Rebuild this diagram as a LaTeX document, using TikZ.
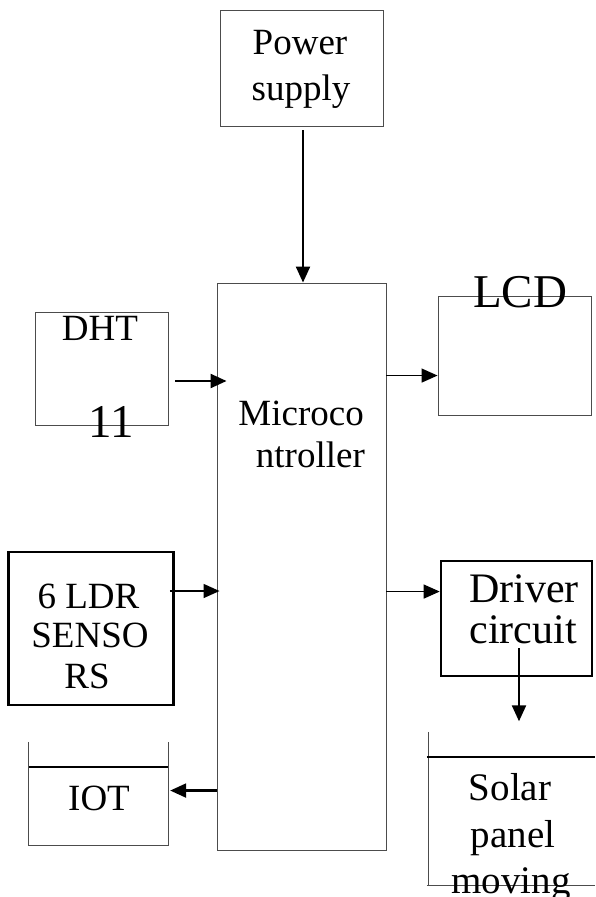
\documentclass[tikz,border=0pt]{standalone}
\usepackage{fontspec}
\setmainfont{Liberation Serif}
\usetikzlibrary{arrows.meta,calc}
\begin{document}
\begin{tikzpicture}[x=1pt,y=-1pt,
  thinbox/.style={draw=black!70,line width=0.9pt,inner sep=0pt},
  thickbox/.style={draw=black,line width=2.6pt,inner sep=0pt},
  ghost/.style={inner sep=0pt},
  edge/.style={draw=black!70,line width=0.9pt},
  bar/.style={draw=black,line width=2.2pt},
  thinarr/.style={line width=1.3pt,-{Triangle[length=16pt,width=14pt]}},
  thickarr/.style={line width=2.2pt,-{Triangle[length=16pt,width=14pt]}},
  lbl/.style={inner sep=0pt,anchor=base,font=\fontsize{37}{40}\selectfont},
  biglbl/.style={inner sep=0pt,anchor=base,font=\fontsize{47}{50}\selectfont},
  drvlbl/.style={inner sep=0pt,anchor=base,font=\fontsize{42}{45}\selectfont},
  sollbl/.style={inner sep=0pt,anchor=base,font=\fontsize{39}{43}\selectfont}]
\useasboundingbox[fill=white] (0,0) rectangle (595,897);

% boxes
\node[thinbox,minimum width=163pt,minimum height=116pt] (ps) at (301.5,68) {};
\node[thinbox,minimum width=169pt,minimum height=567pt] (mc) at (301.5,566.5) {};
\node[thinbox,minimum width=133pt,minimum height=113pt] (dht) at (101.5,368.5) {};
\node[thinbox,minimum width=153pt,minimum height=119pt] (lcd) at (514.5,355.5) {};
\node[thickbox,minimum width=165pt,minimum height=153pt] (ldr) at (91,628.5) {};
\node[thickbox,minimum width=151pt,minimum height=115pt] (drv) at (516.5,618.5) {};
\node[ghost,minimum width=139pt,minimum height=103pt] (iot) at (98.5,793.5) {};
\node[ghost,minimum width=166pt,minimum height=153pt] (sol) at (512,808.5) {};

% open boxes
\draw[edge] (iot.north west) -- (iot.south west) -- (iot.south east) -- (iot.north east);
\draw[bar] ($(iot.north west)+(0,25)$) -- ($(iot.north east)+(0,25)$);
\draw[edge] (sol.north west) -- (sol.south west);
\draw[edge] ($(sol.south west)+(-2,0)$) -- (sol.south east);
\draw[bar] ($(sol.north west)+(-2,25)$) -- ($(sol.north east)+(0,25)$);

% labels
\node[lbl] (t1) at (300,54) {Power};
\node[lbl] (t2) at (301,100) {supply};
\node[lbl] (t3) at (100,340) {DHT};
\node[biglbl] (t4) at (111,437) {11};
\node[biglbl] (t5) at (520,307) {LCD};
\node[lbl,anchor=base east] (t6) at (364,425) {Microco};
\node[lbl,anchor=base east] (t7) at (365,467) {ntroller};
\node[lbl] (t8) at (88.5,608) {6 LDR};
\node[lbl] (t9) at (90,647) {SENSO};
\node[lbl] (t10) at (87,688) {RS};
\node[lbl] (t11) at (99,810) {IOT};
\node[drvlbl] (t12) at (524,602) {Driver};
\node[drvlbl] (t13) at (523,643) {circuit};
\node[sollbl] (t14) at (510,800) {Solar};
\node[sollbl] (t15) at (513,847) {panel};
\node[sollbl] (t16) at (511,893) {moving};

% connectors
\coordinate (p1) at ($(ps.south)+(1.5,4)$);
\draw[thickarr] (p1) -- (p1 |- mc.north);

\coordinate (d1) at ($(dht.east)+(7,12.5)$);
\draw[thickarr] (d1) -- ($(mc.west |- d1)+(10,0)$);

\coordinate (c1) at ($(mc.north east)+(0,93)$);
\draw[thinarr] (c1) -- (c1 -| lcd.west);

\coordinate (l1) at ($(ldr.east)+(-5,-37.5)$);
\draw[thinarr] (l1) -- ($(mc.west |- l1)+(3,0)$);

\coordinate (c2) at ($(mc.north east)+(0,309)$);
\draw[thinarr] (c2) -- (c2 -| drv.west);

\coordinate (c3) at ($(mc.north west)+(0,508)$);
\draw[thickarr] (c3) -- ($(c3 -| iot.east)+(2,0)$);

\coordinate (v1) at ($(drv.center)+(2.5,29.5)$);
\draw[thickarr] (v1) -- ($(drv.south)+(2.5,44)$);
\end{tikzpicture}
\end{document}
